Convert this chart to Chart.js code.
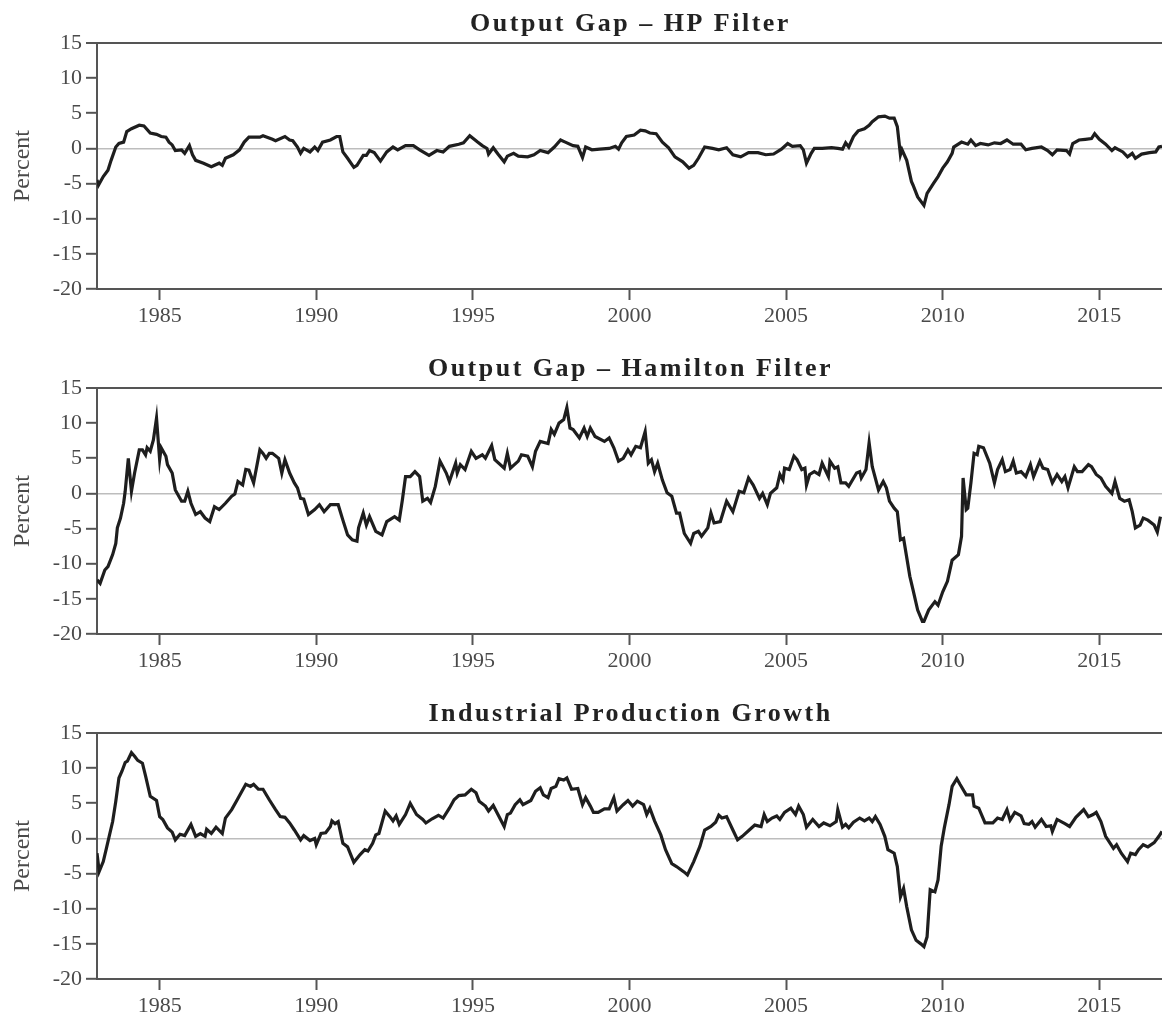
<!DOCTYPE html>
<html>
<head>
<meta charset="utf-8">
<title>Output gap and industrial production</title>
<script src="https://cdn.jsdelivr.net/npm/chart.js@4.4.0/dist/chart.umd.min.js"></script>
<style>
  body { margin: 0; background: #fff; }
  .panel { position: absolute; left: 0; width: 1162px; }
  canvas { display: block; }
</style>
</head>
<body>
<div class="panel" style="top:0px"><canvas id="chart1" width="1162" height="340"></canvas></div>
<div class="panel" style="top:345px"><canvas id="chart2" width="1162" height="340"></canvas></div>
<div class="panel" style="top:690px"><canvas id="chart3" width="1162" height="328"></canvas></div>
<script>
// ===== data (year, percent)
var xTicks = [1985, 1990, 1995, 2000, 2005, 2010, 2015];
var yTicks = [-20, -15, -10, -5, 0, 5, 10, 15];

var hpYears = [1983.0, 1983.05, 1983.2, 1983.35, 1983.45, 1983.6, 1983.7, 1983.85, 1983.95, 1984.1,
  1984.35, 1984.5, 1984.7, 1984.9, 1985.05, 1985.2, 1985.3, 1985.4, 1985.5, 1985.7,
  1985.8, 1985.95, 1986.05, 1986.15, 1986.4, 1986.65, 1986.9, 1987.0, 1987.1, 1987.35,
  1987.55, 1987.7, 1987.85, 1988.2, 1988.3, 1988.6, 1988.7, 1989.0, 1989.15, 1989.25,
  1989.4, 1989.5, 1989.6, 1989.8, 1989.95, 1990.05, 1990.2, 1990.45, 1990.65, 1990.75,
  1990.85, 1991.0, 1991.2, 1991.3, 1991.5, 1991.6, 1991.7, 1991.85, 1992.05, 1992.25,
  1992.45, 1992.6, 1992.85, 1993.1, 1993.3, 1993.6, 1993.85, 1994.05, 1994.25, 1994.55,
  1994.7, 1994.9, 1995.15, 1995.3, 1995.45, 1995.5, 1995.65, 1995.8, 1996.0, 1996.1,
  1996.3, 1996.45, 1996.75, 1996.95, 1997.15, 1997.4, 1997.6, 1997.8, 1997.95, 1998.2,
  1998.35, 1998.5, 1998.6, 1998.8, 1999.05, 1999.35, 1999.55, 1999.65, 1999.75, 1999.9,
  2000.15, 2000.35, 2000.5, 2000.65, 2000.85, 2001.05, 2001.25, 2001.45, 2001.7, 2001.9,
  2002.05, 2002.2, 2002.4, 2002.65, 2002.85, 2003.1, 2003.3, 2003.55, 2003.8, 2004.1,
  2004.35, 2004.6, 2004.85, 2005.05, 2005.2, 2005.45, 2005.55, 2005.65, 2005.8, 2005.9,
  2006.15, 2006.45, 2006.65, 2006.8, 2006.9, 2007.0, 2007.15, 2007.3, 2007.5, 2007.65,
  2007.75, 2007.95, 2008.15, 2008.3, 2008.45, 2008.55, 2008.65, 2008.7, 2008.85, 2009.0,
  2009.05, 2009.2, 2009.4, 2009.5, 2009.7, 2009.85, 2010.0, 2010.15, 2010.3, 2010.35,
  2010.6, 2010.8, 2010.9, 2011.05, 2011.2, 2011.45, 2011.65, 2011.85, 2012.05, 2012.25,
  2012.5, 2012.65, 2012.85, 2013.15, 2013.35, 2013.5, 2013.65, 2013.95, 2014.05, 2014.15,
  2014.35, 2014.55, 2014.75, 2014.85, 2015.0, 2015.2, 2015.4, 2015.5, 2015.75, 2015.9,
  2016.05, 2016.15, 2016.35, 2016.6, 2016.8, 2016.9, 2017.0];
var hpValues = [-4.5, -5.2, -4.0, -3.1, -1.7, 0.2, 0.7, 0.9, 2.4, 2.8,
  3.3, 3.2, 2.2, 2.0, 1.7, 1.6, 0.9, 0.5, -0.3, -0.2,
  -0.7, 0.4, -0.9, -1.7, -2.1, -2.6, -2.1, -2.4, -1.4, -0.9,
  -0.2, 0.9, 1.6, 1.6, 1.8, 1.3, 1.1, 1.7, 1.2, 1.1,
  0.2, -0.7, 0.0, -0.5, 0.2, -0.3, 0.9, 1.2, 1.7, 1.7,
  -0.5, -1.4, -2.7, -2.4, -1.0, -1.0, -0.3, -0.6, -1.8, -0.5,
  0.2, -0.2, 0.4, 0.4, -0.2, -1.0, -0.3, -0.5, 0.3, 0.6,
  0.8, 1.8, 0.9, 0.4, 0.0, -0.8, 0.1, -0.8, -1.9, -1.1,
  -0.7, -1.1, -1.2, -0.9, -0.3, -0.6, 0.2, 1.2, 0.9, 0.4,
  0.3, -1.3, 0.2, -0.2, -0.1, 0.0, 0.3, -0.1, 0.8, 1.7,
  1.9, 2.6, 2.5, 2.2, 2.1, 0.9, 0.1, -1.2, -1.9, -2.8,
  -2.4, -1.4, 0.2, 0.0, -0.2, 0.1, -0.9, -1.2, -0.6, -0.6,
  -0.9, -0.8, -0.1, 0.7, 0.3, 0.4, -0.2, -2.1, -0.7, 0.0,
  0.0, 0.1, 0.0, -0.1, 0.8, 0.2, 1.7, 2.5, 2.8, 3.3,
  3.8, 4.5, 4.6, 4.3, 4.3, 3.1, -0.9, -0.2, -1.7, -4.7,
  -5.2, -6.9, -8.1, -6.4, -5.0, -4.0, -2.8, -1.9, -0.7, 0.2,
  0.9, 0.6, 1.2, 0.4, 0.7, 0.5, 0.8, 0.7, 1.2, 0.6,
  0.6, -0.2, 0.0, 0.2, -0.3, -0.9, -0.2, -0.3, -0.8, 0.7,
  1.2, 1.3, 1.4, 2.1, 1.3, 0.6, -0.3, 0.1, -0.5, -1.2,
  -0.7, -1.4, -0.8, -0.6, -0.5, 0.2, 0.3];

var hamYears = [1983.0, 1983.1, 1983.25, 1983.35, 1983.5, 1983.6, 1983.65, 1983.75, 1983.85, 1983.9,
  1984.0, 1984.1, 1984.2, 1984.35, 1984.45, 1984.55, 1984.6, 1984.7, 1984.8, 1984.9,
  1985.0, 1985.05, 1985.2, 1985.25, 1985.4, 1985.5, 1985.7, 1985.8, 1985.9, 1986.0,
  1986.15, 1986.3, 1986.45, 1986.6, 1986.75, 1986.9, 1987.1, 1987.3, 1987.4, 1987.5,
  1987.65, 1987.75, 1987.85, 1988.0, 1988.2, 1988.3, 1988.4, 1988.5, 1988.6, 1988.8,
  1988.9, 1989.0, 1989.15, 1989.3, 1989.4, 1989.5, 1989.6, 1989.75, 1989.95, 1990.1,
  1990.25, 1990.45, 1990.7, 1990.85, 1991.0, 1991.15, 1991.3, 1991.35, 1991.5, 1991.6,
  1991.7, 1991.9, 1992.1, 1992.25, 1992.5, 1992.65, 1992.75, 1992.85, 1993.0, 1993.15,
  1993.3, 1993.4, 1993.55, 1993.65, 1993.8, 1993.95, 1994.15, 1994.25, 1994.45, 1994.5,
  1994.6, 1994.75, 1994.95, 1995.1, 1995.3, 1995.4, 1995.6, 1995.7, 1996.0, 1996.1,
  1996.2, 1996.45, 1996.55, 1996.75, 1996.9, 1997.0, 1997.15, 1997.4, 1997.5, 1997.6,
  1997.75, 1997.9, 1998.0, 1998.1, 1998.2, 1998.4, 1998.55, 1998.65, 1998.75, 1998.9,
  1999.2, 1999.35, 1999.5, 1999.65, 1999.8, 1999.95, 2000.05, 2000.2, 2000.35, 2000.5,
  2000.6, 2000.7, 2000.8, 2000.9, 2001.05, 2001.2, 2001.35, 2001.5, 2001.6, 2001.75,
  2001.95, 2002.05, 2002.2, 2002.3, 2002.5, 2002.6, 2002.7, 2002.9, 2003.1, 2003.3,
  2003.5, 2003.65, 2003.8, 2003.95, 2004.15, 2004.25, 2004.4, 2004.5, 2004.7, 2004.8,
  2004.9, 2004.95, 2005.1, 2005.25, 2005.35, 2005.5, 2005.6, 2005.65, 2005.75, 2005.9,
  2006.05, 2006.15, 2006.35, 2006.4, 2006.55, 2006.65, 2006.75, 2006.9, 2007.0, 2007.25,
  2007.35, 2007.4, 2007.55, 2007.65, 2007.75, 2007.95, 2008.1, 2008.2, 2008.3, 2008.45,
  2008.55, 2008.65, 2008.75, 2008.95, 2009.05, 2009.2, 2009.35, 2009.4, 2009.55, 2009.75,
  2009.85, 2010.0, 2010.15, 2010.3, 2010.5, 2010.6, 2010.65, 2010.75, 2010.8, 2010.9,
  2011.0, 2011.1, 2011.15, 2011.3, 2011.5, 2011.65, 2011.75, 2011.9, 2012.0, 2012.15,
  2012.25, 2012.35, 2012.5, 2012.65, 2012.8, 2012.9, 2013.1, 2013.2, 2013.35, 2013.5,
  2013.65, 2013.8, 2013.9, 2014.0, 2014.2, 2014.3, 2014.45, 2014.65, 2014.75, 2014.9,
  2015.05, 2015.2, 2015.4, 2015.5, 2015.65, 2015.8, 2015.95, 2016.05, 2016.15, 2016.3,
  2016.4, 2016.55, 2016.75, 2016.85, 2016.95];
var hamValues = [-12.3, -12.8, -10.9, -10.4, -8.7, -7.1, -4.9, -3.5, -1.4, 0.3,
  5.0, 0.3, 2.9, 6.2, 6.2, 5.5, 6.5, 6.0, 7.6, 10.7,
  4.8, 6.5, 5.3, 4.1, 2.9, 0.5, -1.1, -1.1, 0.3, -1.4,
  -3.0, -2.6, -3.5, -4.0, -1.9, -2.3, -1.4, -0.4, -0.1, 1.7,
  1.2, 3.4, 3.3, 1.5, 6.2, 5.7, 5.0, 5.7, 5.7, 5.0,
  2.9, 4.8, 2.9, 1.5, 0.8, -0.7, -0.8, -3.0, -2.3, -1.6,
  -2.6, -1.6, -1.6, -3.8, -5.9, -6.6, -6.8, -4.9, -2.8, -4.5,
  -3.3, -5.4, -5.9, -4.0, -3.3, -3.8, -0.9, 2.4, 2.4, 3.1,
  2.4, -1.1, -0.7, -1.3, 1.0, 4.6, 2.9, 1.7, 4.3, 2.9,
  4.1, 3.4, 6.0, 5.0, 5.5, 5.0, 6.8, 4.8, 3.6, 5.7,
  3.6, 4.6, 5.5, 5.3, 3.8, 6.0, 7.4, 7.1, 9.1, 8.4,
  10.0, 10.5, 12.2, 9.3, 9.1, 7.9, 9.3, 8.1, 9.3, 8.1,
  7.4, 7.9, 6.5, 4.6, 5.0, 6.2, 5.5, 6.7, 6.5, 8.8,
  4.3, 4.8, 3.1, 4.3, 1.9, 0.1, -0.4, -2.8, -2.8, -5.7,
  -7.1, -5.7, -5.4, -6.1, -4.9, -2.8, -4.2, -4.0, -1.1, -2.6,
  0.3, 0.1, 2.2, 1.2, -0.7, 0.0, -1.6, 0.0, 0.8, 2.7,
  1.9, 3.6, 3.4, 5.3, 4.8, 3.4, 3.6, 1.2, 2.7, 3.1,
  2.7, 4.3, 2.4, 4.6, 3.6, 3.8, 1.5, 1.5, 1.0, 2.9,
  3.1, 2.2, 3.4, 7.2, 3.8, 0.5, 1.7, 0.8, -1.1, -2.1,
  -2.6, -6.6, -6.4, -11.8, -13.7, -16.6, -18.2, -18.2, -16.6, -15.4,
  -15.9, -14.0, -12.5, -9.5, -8.7, -6.1, 2.2, -2.3, -2.1, 1.5,
  5.7, 5.5, 6.7, 6.5, 4.3, 1.5, 3.4, 4.8, 3.1, 3.4,
  4.6, 2.9, 3.1, 2.4, 4.1, 2.4, 4.6, 3.6, 3.4, 1.5,
  2.7, 1.7, 2.4, 0.8, 3.8, 3.1, 3.1, 4.1, 3.8, 2.7,
  2.2, 1.0, 0.0, 1.7, -0.7, -1.1, -0.9, -2.6, -4.9, -4.5,
  -3.5, -3.8, -4.5, -5.5, -3.3];

var ipYears = [1983.0, 1983.07, 1983.2, 1983.3, 1983.4, 1983.5, 1983.6, 1983.7, 1983.8, 1983.9,
  1983.97, 1984.1, 1984.2, 1984.3, 1984.45, 1984.55, 1984.7, 1984.9, 1985.0, 1985.1,
  1985.25, 1985.4, 1985.5, 1985.65, 1985.8, 1986.0, 1986.15, 1986.3, 1986.45, 1986.5,
  1986.65, 1986.8, 1987.0, 1987.1, 1987.3, 1987.45, 1987.6, 1987.75, 1987.9, 1988.0,
  1988.15, 1988.3, 1988.5, 1988.7, 1988.85, 1989.0, 1989.15, 1989.3, 1989.5, 1989.6,
  1989.8, 1989.95, 1990.0, 1990.15, 1990.3, 1990.45, 1990.5, 1990.6, 1990.7, 1990.85,
  1991.0, 1991.2, 1991.4, 1991.55, 1991.65, 1991.8, 1991.9, 1992.0, 1992.2, 1992.35,
  1992.45, 1992.55, 1992.65, 1992.85, 1993.0, 1993.2, 1993.4, 1993.5, 1993.7, 1993.9,
  1994.05, 1994.25, 1994.4, 1994.55, 1994.75, 1994.95, 1995.1, 1995.2, 1995.4, 1995.5,
  1995.65, 1995.8, 1996.0, 1996.1, 1996.2, 1996.35, 1996.5, 1996.6, 1996.85, 1997.0,
  1997.15, 1997.25, 1997.4, 1997.5, 1997.65, 1997.75, 1997.9, 1998.0, 1998.15, 1998.35,
  1998.5, 1998.6, 1998.75, 1998.85, 1999.0, 1999.2, 1999.35, 1999.5, 1999.6, 1999.8,
  1999.95, 2000.1, 2000.25, 2000.45, 2000.55, 2000.65, 2000.8, 2001.0, 2001.15, 2001.35,
  2001.5, 2001.75, 2001.85, 2002.05, 2002.25, 2002.4, 2002.6, 2002.75, 2002.85, 2002.95,
  2003.1, 2003.3, 2003.45, 2003.6, 2003.85, 2004.0, 2004.2, 2004.3, 2004.4, 2004.55,
  2004.7, 2004.8, 2004.95, 2005.15, 2005.3, 2005.4, 2005.55, 2005.65, 2005.85, 2006.05,
  2006.2, 2006.4, 2006.6, 2006.65, 2006.8, 2006.9, 2007.0, 2007.15, 2007.35, 2007.5,
  2007.65, 2007.75, 2007.85, 2008.0, 2008.15, 2008.25, 2008.45, 2008.55, 2008.65, 2008.75,
  2008.85, 2009.0, 2009.15, 2009.3, 2009.4, 2009.5, 2009.6, 2009.75, 2009.85, 2009.95,
  2010.05, 2010.2, 2010.3, 2010.45, 2010.55, 2010.75, 2010.95, 2011.0, 2011.15, 2011.35,
  2011.6, 2011.75, 2011.9, 2012.05, 2012.15, 2012.3, 2012.5, 2012.6, 2012.75, 2012.85,
  2012.95, 2013.15, 2013.3, 2013.45, 2013.5, 2013.65, 2013.9, 2014.05, 2014.25, 2014.5,
  2014.65, 2014.8, 2014.9, 2015.05, 2015.2, 2015.45, 2015.55, 2015.7, 2015.9, 2016.0,
  2016.15, 2016.25, 2016.4, 2016.55, 2016.75, 2016.9, 2017.0];
var ipValues = [-2.1, -4.7, -3.3, -1.4, 0.5, 2.4, 5.3, 8.6, 9.6, 10.8,
  11.0, 12.2, 11.7, 11.1, 10.7, 8.9, 6.0, 5.4, 3.1, 2.7,
  1.5, 0.9, -0.2, 0.6, 0.4, 2.0, 0.3, 0.7, 0.3, 1.3,
  0.7, 1.6, 0.7, 2.9, 4.1, 5.3, 6.5, 7.7, 7.4, 7.7,
  7.0, 7.0, 5.5, 4.1, 3.1, 3.0, 2.2, 1.2, -0.2, 0.4,
  -0.3, 0.0, -0.9, 0.7, 0.8, 1.7, 2.5, 2.1, 2.4, -0.7,
  -1.2, -3.4, -2.3, -1.6, -1.8, -0.7, 0.5, 0.7, 3.9, 3.1,
  2.5, 3.2, 2.0, 3.4, 5.0, 3.4, 2.7, 2.2, 2.8, 3.3,
  2.9, 4.3, 5.5, 6.1, 6.2, 7.0, 6.5, 5.3, 4.6, 3.9,
  4.7, 3.4, 1.7, 3.4, 3.6, 4.8, 5.5, 4.8, 5.4, 6.7,
  7.2, 6.2, 5.8, 7.1, 7.4, 8.5, 8.3, 8.6, 7.0, 7.1,
  4.8, 5.8, 4.6, 3.7, 3.7, 4.2, 4.2, 5.8, 3.9, 4.8,
  5.4, 4.6, 5.3, 4.8, 3.4, 4.3, 2.5, 0.5, -1.6, -3.6,
  -4.0, -4.8, -5.2, -3.3, -1.1, 1.2, 1.7, 2.3, 3.3, 2.9,
  3.1, 1.2, -0.2, 0.3, 1.3, 1.9, 1.7, 3.4, 2.4, 2.9,
  3.2, 2.7, 3.7, 4.3, 3.4, 4.6, 3.4, 1.6, 2.7, 1.7,
  2.2, 1.8, 2.4, 4.1, 1.6, 2.0, 1.5, 2.3, 2.9, 2.5,
  2.9, 2.4, 3.1, 2.0, 0.3, -1.6, -2.1, -4.0, -8.3, -7.1,
  -9.7, -13.0, -14.5, -15.0, -15.4, -14.0, -7.3, -7.6, -5.9, -1.1,
  1.5, 4.8, 7.4, 8.5, 7.7, 6.2, 6.2, 4.6, 4.3, 2.2,
  2.2, 2.9, 2.7, 4.1, 2.6, 3.7, 3.2, 2.1, 2.0, 2.4,
  1.6, 2.7, 1.7, 1.8, 1.0, 2.7, 2.1, 1.7, 3.0, 4.1,
  3.1, 3.4, 3.7, 2.4, 0.3, -1.4, -0.9, -2.1, -3.3, -2.1,
  -2.3, -1.6, -0.9, -1.2, -0.6, 0.3, 1.0];

var serif = '"Liberation Serif", "DejaVu Serif", serif';

// panel title drawn over the middle of the plot area
var panelTitle = {
  id: "panelTitle",
  afterDraw: function (chart, args, opts) {
    var c = chart.ctx, a = chart.chartArea;
    c.save();
    c.font = "bold 26px " + serif;
    c.letterSpacing = "2.5px";
    c.fillStyle = "#222";
    c.textAlign = "center";
    c.textBaseline = "alphabetic";
    c.fillText(opts.text, (a.left + a.right) / 2 + 1, 31);
    c.restore();
  }
};

function makeChart(id, title, years, values) {
  var ctx = document.getElementById(id).getContext("2d");
  var h = ctx.canvas.height;
  return new Chart(ctx, {
    type: "line",
    data: {
      datasets: [{
        data: years.map(function (yr, i) { return { x: yr, y: values[i] }; }),
        borderColor: "#1e1e1e",
        borderWidth: 3.2,
        pointRadius: 0,
        tension: 0,
        fill: false
      }]
    },
    plugins: [panelTitle],
    options: {
      responsive: false,
      animation: false,
      layout: { padding: { top: 43, left: 0, right: 0, bottom: 0 } },
      plugins: {
        legend: { display: false },
        tooltip: { enabled: false },
        panelTitle: { text: title }
      },
      scales: {
        x: {
          type: "linear",
          min: 1983,
          max: 2017,
          afterBuildTicks: function (axis) { axis.ticks = xTicks.map(function (v) { return { value: v }; }); },
          afterFit: function (axis) { axis.height = h - 289; },
          ticks: {
            callback: function (v) { return String(v); },
            font: { family: serif, size: 22 },
            color: "#4a4a4a",
            padding: 3,
            maxRotation: 0,
            autoSkip: false
          },
          grid: { drawOnChartArea: false, tickLength: 11, tickColor: "#555", tickWidth: 2 },
          border: { color: "#555", width: 2 }
        },
        y: {
          min: -20,
          max: 15,
          afterBuildTicks: function (axis) { axis.ticks = yTicks.map(function (v) { return { value: v }; }); },
          afterFit: function (axis) { axis.width = 97; },
          ticks: {
            callback: function (v) { return String(v); },
            font: { family: serif, size: 22 },
            color: "#4a4a4a",
            padding: 4
          },
          grid: {
            color: function (c) {
              if (c.tick.value === 15) return "#555";
              if (c.tick.value === 0) return "#bdbdbd";
              return "rgba(0,0,0,0)";
            },
            lineWidth: function (c) { return c.tick.value === 15 ? 2 : 1.6; },
            tickLength: 11,
            tickColor: "#555",
            tickWidth: 2
          },
          border: { color: "#555", width: 2 },
          title: {
            display: true,
            text: "Percent",
            font: { family: serif, size: 24 },
            color: "#4a4a4a",
            padding: { top: 8, bottom: 0 }
          }
        }
      }
    }
  });
}

makeChart("chart1", "Output Gap \u2013 HP Filter", hpYears, hpValues);
makeChart("chart2", "Output Gap \u2013 Hamilton Filter", hamYears, hamValues);
makeChart("chart3", "Industrial Production Growth", ipYears, ipValues);
</script>
</body>
</html>
